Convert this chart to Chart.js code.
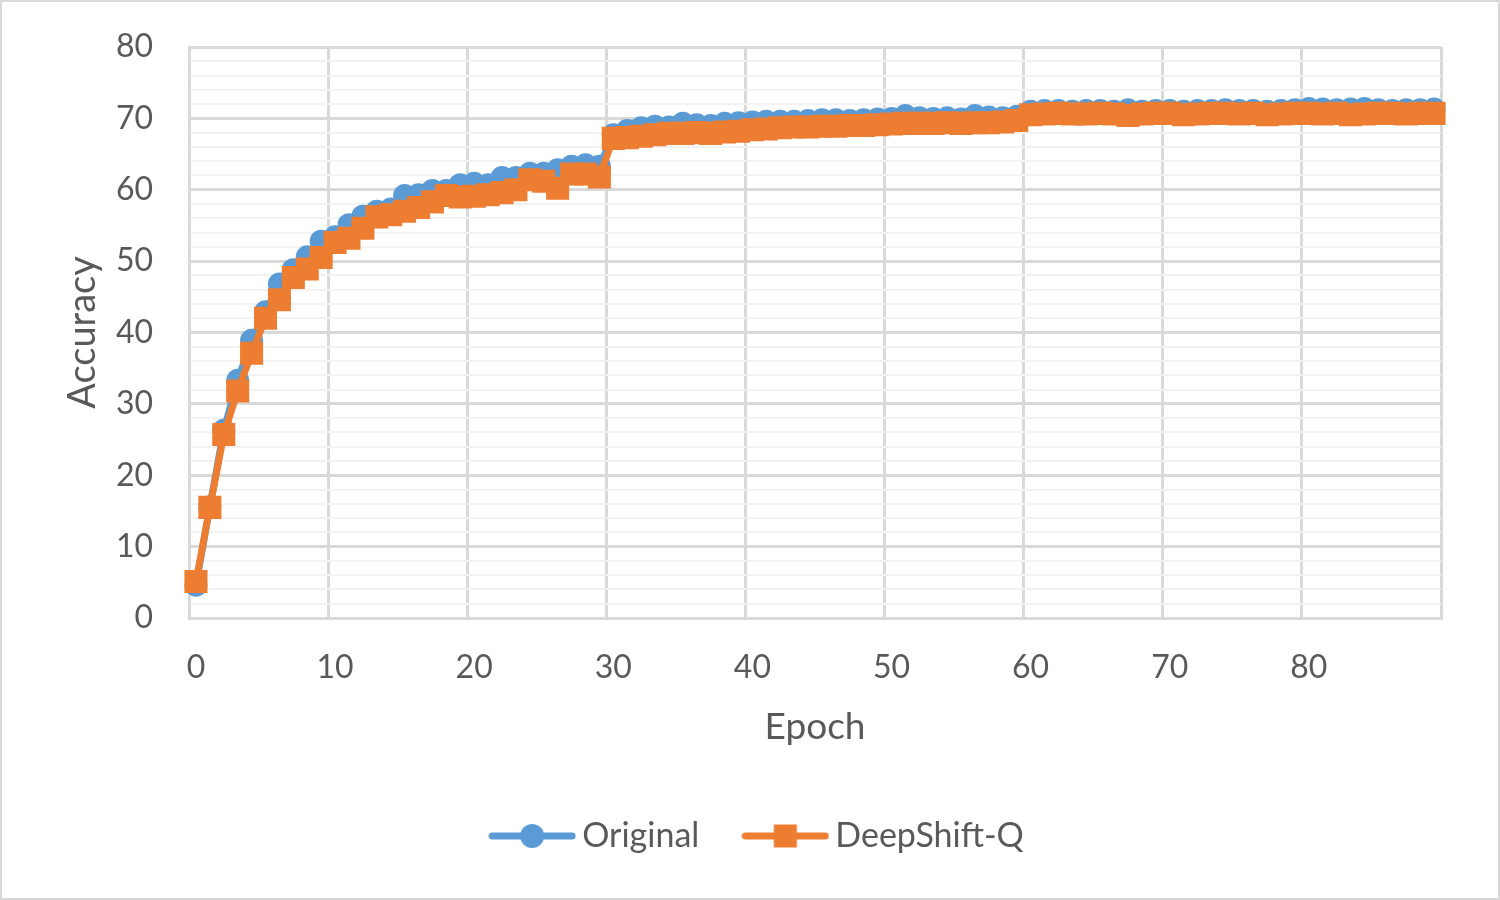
<!DOCTYPE html>
<html>
<head>
<meta charset="utf-8">
<script src="https://cdn.jsdelivr.net/npm/chart.js@4.4.1/dist/chart.umd.min.js"></script>
<style>
  html, body { margin: 0; padding: 0; background: #fff; }
  #wrap { position: relative; width: 1500px; height: 900px; }
  #frame { position: absolute; left: 0; top: 0; right: 0; bottom: 0; border: 2px solid #d9d9d9; pointer-events: none; }
</style>
</head>
<body>
<div id="wrap">
  <canvas id="chart" width="1500" height="900"></canvas>
  <div id="frame"></div>
</div>
<script>
// epochs 0..89 (category axis)
const epochs = Array.from({ length: 90 }, (_, i) => String(i))

const original = [
  4.6, 15.6, 26.3, 33.3, 38.9, 42.9, 46.8, 48.8, 50.6, 52.8,
  53.4, 55.1, 56.3, 57.0, 57.3, 59.2, 59.3, 59.9, 59.9, 60.7,
  60.9, 60.7, 61.7, 61.7, 62.3, 62.3, 62.8, 63.3, 63.5, 63.3,
  67.7, 68.3, 68.7, 68.9, 68.8, 69.3, 69.1, 69.0, 69.3, 69.4,
  69.5, 69.6, 69.6, 69.6, 69.7, 69.8, 69.8, 69.7, 69.8, 69.9,
  70.0, 70.4, 70.1, 70.0, 70.1, 69.9, 70.4, 70.2, 70.1, 70.3,
  71.0, 71.1, 71.1, 71.0, 71.1, 71.1, 71.0, 71.2, 71.0, 71.1,
  71.1, 71.0, 71.1, 71.1, 71.2, 71.1, 71.1, 71.0, 71.1, 71.2,
  71.4, 71.3, 71.2, 71.3, 71.4, 71.2, 71.1, 71.2, 71.2, 71.3
]

const deepShiftQ = [
  5.1, 15.5, 25.7, 31.8, 37.1, 42.0, 44.6, 47.7, 48.9, 50.5,
  52.6, 53.2, 54.6, 56.2, 56.5, 57.0, 57.5, 58.3, 59.2, 59.0,
  59.1, 59.3, 59.6, 60.0, 61.4, 61.2, 60.2, 62.2, 62.2, 61.8,
  67.2, 67.3, 67.5, 67.7, 67.9, 67.9, 68.0, 67.9, 68.1, 68.2,
  68.4, 68.5, 68.7, 68.8, 68.8, 68.9, 68.9, 69.0, 69.0, 69.1,
  69.2, 69.3, 69.3, 69.3, 69.4, 69.3, 69.4, 69.4, 69.5, 69.7,
  70.5, 70.6, 70.7, 70.6, 70.6, 70.7, 70.6, 70.4, 70.6, 70.7,
  70.7, 70.5, 70.6, 70.7, 70.7, 70.6, 70.7, 70.5, 70.6, 70.7,
  70.7, 70.6, 70.7, 70.5, 70.6, 70.7, 70.7, 70.6, 70.7, 70.7
]

const yTicks = [0, 10, 20, 30, 40, 50, 60, 70, 80]

const BLUE = '#5B9BD5'
const ORANGE = '#ED7D31'
const TEXT = '#595959'
const GRID = '#d9d9d9'
const MINOR = '#f2f2f2'

// little "line + marker" swatch for the legend, like Excel draws it
function legendSwatch(color, shape) {
  const c = document.createElement('canvas')
  c.width = 88
  c.height = 26
  const g = c.getContext('2d')
  g.strokeStyle = color
  g.fillStyle = color
  g.lineWidth = 7
  g.lineCap = 'round'
  g.beginPath()
  g.moveTo(4, 13)
  g.lineTo(84, 13)
  g.stroke()
  if (shape === 'circle') {
    g.beginPath()
    g.arc(44, 13, 12, 0, Math.PI * 2)
    g.fill()
  } else {
    g.fillRect(32.5, 1.5, 23, 23)
  }
  return c
}

const swatches = [legendSwatch(BLUE, 'circle'), legendSwatch(ORANGE, 'rect')]

// legend box stops at the right padding, so push it back to the page centre
const legendNudge = {
  id: 'legendNudge',
  afterLayout(chart) {
    if (chart.legend) {
      chart.legend.left += 41
      chart.legend.right += 41
    }
  }
}

const ctx = document.getElementById('chart')

new Chart(ctx, {
  type: 'line',
  data: {
    labels: epochs,
    datasets: [
      {
        label: 'Original',
        data: original,
        borderColor: BLUE,
        backgroundColor: BLUE,
        borderWidth: 7,
        pointStyle: 'circle',
        pointRadius: 11.5,
        pointBorderWidth: 0,
        pointBackgroundColor: BLUE,
        tension: 0,
        order: 2
      },
      {
        label: 'DeepShift-Q',
        data: deepShiftQ,
        borderColor: ORANGE,
        backgroundColor: ORANGE,
        borderWidth: 7,
        pointStyle: 'rect',
        pointRadius: 16.3,
        pointBorderWidth: 0,
        pointBackgroundColor: ORANGE,
        tension: 0,
        order: 1
      }
    ]
  },
  plugins: [legendNudge],
  options: {
    responsive: false,
    animation: false,
    layout: { padding: { left: 0, right: 59, top: 47, bottom: 37 } },
    font: { family: 'Lato' },
    scales: {
      x: {
        type: 'category',
        offset: true,
        afterFit: (s) => { s.height = 148 },
        grid: {
          offset: true,
          drawTicks: false,
          lineWidth: 3,
          color: (c) => (c.index === undefined || c.index % 10 === 0) ? GRID : 'rgba(0,0,0,0)'
        },
        border: { display: true, color: GRID, width: 3 },
        ticks: {
          autoSkip: false,
          maxRotation: 0,
          minRotation: 0,
          padding: 30,
          color: TEXT,
          font: { family: 'Lato', size: 32 },
          callback: (v, i) => i % 10 === 0 ? epochs[i] : ''
        },
        title: {
          display: true,
          text: 'Epoch',
          color: TEXT,
          font: { family: 'Lato', size: 37 },
          padding: { top: 0, bottom: 17 }
        }
      },
      y: {
        min: yTicks[0],
        max: yTicks[yTicks.length - 1],
        // fixed width, and don't let the tick padding push the plot down
        afterFit: (s) => { s.width = 189; s.paddingTop = 20; s.paddingBottom = 20 },
        grid: {
          drawTicks: false,
          lineWidth: (c) => c.tick && c.tick.value % 10 === 0 ? 3 : 2,
          color: (c) => c.tick && c.tick.value % 10 === 0 ? GRID : MINOR
        },
        border: { display: true, color: GRID, width: 3 },
        ticks: {
          stepSize: 2,
          maxTicksLimit: 100,
          autoSkip: false,
          padding: 36,
          color: TEXT,
          font: { family: 'Lato', size: 32 },
          callback: (v) => yTicks.includes(v) ? v : ''
        },
        title: {
          display: true,
          text: 'Accuracy',
          color: TEXT,
          font: { family: 'Lato', size: 38 },
          padding: { top: 60, bottom: 0 }
        }
      }
    },
    plugins: {
      tooltip: { enabled: false },
      legend: {
        display: true,
        position: 'bottom',
        labels: {
          usePointStyle: true,
          pointStyleWidth: 66,
          padding: 53,
          color: TEXT,
          font: { family: 'Lato', size: 34 },
          sort: (a, b) => a.datasetIndex - b.datasetIndex,
          generateLabels: (chart) => {
            const items = Chart.defaults.plugins.legend.labels.generateLabels(chart)
            items.forEach((it) => { it.pointStyle = swatches[it.datasetIndex] })
            return items
          }
        }
      }
    }
  }
})
</script>
</body>
</html>
